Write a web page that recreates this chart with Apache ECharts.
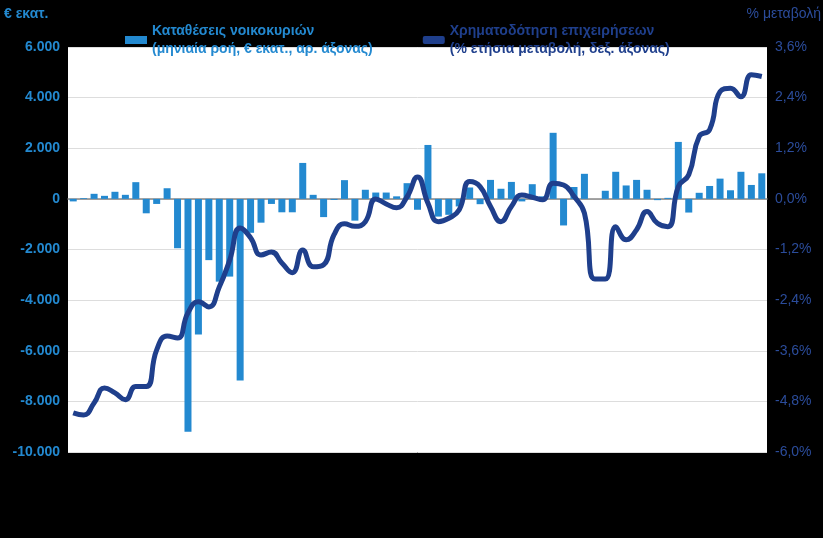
<!DOCTYPE html>
<html>
<head>
<meta charset="UTF-8">
<script src="https://cdn.jsdelivr.net/npm/echarts@6/dist/echarts.min.js"></script>
<style>body{margin:0;background:#000}</style>
</head>
<body>
<div id="main" style="width:823px;height:538px;"></div>
<script>
// μηνιαία ροή καταθέσεων (€ εκατ.)
var deposits = [-100,30,200,120,280,160,660,-570,-200,420,-1950,-9200,-5360,-2420,-3270,-3070,-7180,-1340,-940,-200,-530,-530,1420,160,-720,-40,740,-860,360,250,250,100,620,-430,
  2130,-700,-630,-300,450,-210,750,400,670,-100,580,100,2610,-1050,470,990,0,320,1070,530,750,360,-50,40,2250,-540,240,510,800,340,1070,550,1010];
// ετήσια μεταβολή χρηματοδότησης (%)
var loans = [-5.07,-5.12,-4.84,-4.48,-4.6,-4.76,-4.45,-4.45,-3.58,-3.25,-3.3,-2.7,-2.44,-2.56,-2.09,-1.45,-0.69,-0.92,-1.33,-1.26,-1.52,-1.75,-1.21,-1.61,-1.56,-0.85,-0.59,-0.65,-0.54,0,-0.12,-0.21,0.05,0.52,
  -0.1,-0.54,-0.46,-0.26,0.41,0.29,-0.18,-0.54,-0.18,0.09,0.04,-0.02,0.37,0.33,0.06,-0.34,-1.9,-1.9,-0.66,-0.97,-0.73,-0.3,-0.58,-0.66,0.29,0.57,1.48,1.64,2.54,2.62,2.42,2.94,2.9];
var months = deposits.map(function(v,i){return i+1;});

var barColor = '#2389D0', lineColor = '#1F3F8C';
var myChart = echarts.init(document.getElementById('main'));
var option = {
    backgroundColor: '#000',
    textStyle: {fontFamily: 'Liberation Sans'},
    grid: {left: 68, right: 56, top: 47, bottom: 86, show: true, backgroundColor: '#fff', borderWidth: 0},
    graphic: [
        {type: 'text', left: 4, top: 7, style: {text: '€ εκατ.', fill: barColor, font: 'bold 14px Liberation Sans'}},
        {type: 'text', right: 2, top: 7, style: {text: '% μεταβολή', fill: '#2B4C9B', font: '14px Liberation Sans'}}
    ],
    legend: {
        top: 17, left: 120, itemGap: 50, itemWidth: 22, itemHeight: 8,
        data: [
            {name: 'Καταθέσεις νοικοκυριών\n(μηνιαία ροή, € εκατ., αρ. άξονας)', icon: 'rect', textStyle: {color: barColor}},
            {name: 'Χρηματοδότηση επιχειρήσεων\n(% ετήσια μεταβολή, δεξ. άξονας)', icon: 'roundRect', textStyle: {color: lineColor}}
        ],
        textStyle: {fontSize: 14, lineHeight: 18, fontWeight: 'bold'}
    },
    xAxis: {
        type: 'category', data: months,
        axisLabel: {show: false}, axisTick: {show: false},
        axisLine: {lineStyle: {color: '#888', width: 1.5}}
    },
    yAxis: [
        {type: 'value', min: -10000, max: 6000, interval: 2000,
         axisLabel: {color: barColor, fontWeight: 'bold', fontSize: 14,
            formatter: function(v){return v.toLocaleString('de-DE');}},
         splitLine: {lineStyle: {color: '#ddd'}}},
        {type: 'value', min: -6, max: 3.6, interval: 1.2,
         axisLabel: {color: '#2B4C9B', fontSize: 14,
            formatter: function(v){return v.toFixed(1).replace('.', ',') + '%';}},
         splitLine: {show: false}}
    ],
    series: [
        {name: 'Καταθέσεις νοικοκυριών\n(μηνιαία ροή, € εκατ., αρ. άξονας)', type: 'bar', data: deposits,
         barWidth: 7, itemStyle: {color: barColor}},
        {name: 'Χρηματοδότηση επιχειρήσεων\n(% ετήσια μεταβολή, δεξ. άξονας)', type: 'line', yAxisIndex: 1, data: loans,
         smooth: 0.5, symbol: 'none', lineStyle: {color: lineColor, width: 5}, itemStyle: {color: lineColor}}
    ]
};
myChart.setOption(option);
</script>
</body>
</html>
